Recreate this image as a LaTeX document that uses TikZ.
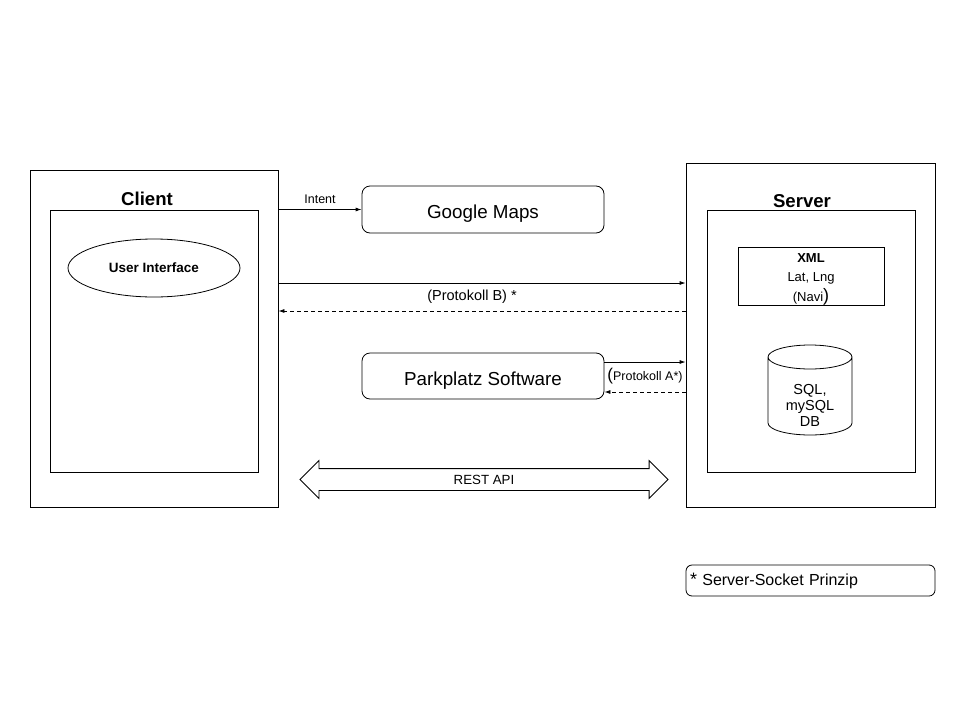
\documentclass[tikz,border=0pt]{standalone}
\usepackage{fontspec}
\setmainfont{Liberation Sans}
\usetikzlibrary{shapes.geometric, shapes.arrows, arrows.meta}

\begin{document}
\begin{tikzpicture}[
		x=1pt, y=-1pt,
		every node/.style={inner sep=0pt},
		box/.style={draw, line width=0.8pt},
		rbox/.style={draw, line width=0.8pt, rounded corners=8pt, text height=18pt, text depth=0pt, font=\fontsize{18.8}{22}\selectfont},
		title/.style={font=\fontsize{18.6}{22}\selectfont\bfseries},
		msg/.style={line width=0.8pt, -{Latex[length=6pt, width=4pt]}},
		reply/.style={msg, dash pattern=on 4pt off 3pt}
	]
  \useasboundingbox (0,0) rectangle (960,720);
  % client side
  \node (client) [box, minimum width=248pt, minimum height=337pt] at (154,338.5) {};
  \node (client_in) [box, minimum width=208pt, minimum height=262pt] at (154,341) {};
  \node (client_label) [title] at (147,199) {Client};
  \node (ui) [box, ellipse, minimum width=172pt, minimum height=58pt, font=\fontsize{13.5}{15}\selectfont\bfseries] at (154,268) {User Interface};
  % server side
  \node (server) [box, minimum width=249pt, minimum height=344pt] at (810.5,335) {};
  \node (server_in) [box, minimum width=208pt, minimum height=262pt] at (811,341) {};
  \node (server_label) [title] at (802,201) {Server};
  \node (xml) [box, minimum width=146pt, minimum height=58pt] at (811,276) {};
  \node (xml_text) [align=center, font=\fontsize{13}{19.5}\selectfont] at (811,279) {\textbf{XML}\\Lat, Lng\\(Navi{\fontsize{18}{18}\selectfont)}};
  \draw [line width=0.8pt] (768,357) -- (768,423) arc (180:0:42 and 12) -- (852,357) arc (0:-180:42 and 12) arc (180:0:42 and 12);
  \node (db) [align=center, font=\fontsize{14.5}{16}\selectfont] at (810,405) {SQL,\\mySQL\\DB};
  % middle
  \node (gmaps) [rbox, minimum width=242pt, minimum height=47pt] at (483,209.5) {Google Maps};
  \node (park) [rbox, minimum width=242pt, minimum height=46pt] at (483,376) {Parkplatz Software};
  \draw [msg] (client.east |- gmaps.west) -- node [above=5pt, font=\fontsize{12.5}{14}\selectfont] {Intent} (gmaps.west);
  \draw [msg] (client.east |- 0,283) -- (server.west |- 0,283);
  \node (proto_b) [font=\fontsize{14.5}{17}\selectfont] at (472,297) {(Protokoll B) *};
  \draw [reply] (server.west |- 0,311) -- (client.east |- 0,311);
  \draw [msg] (park.east |- 0,362) -- (server.west |- 0,362);
  \draw [reply] (server.west |- 0,392) -- (park.east |- 0,392);
  \node (proto_a) [font=\fontsize{12.5}{14}\selectfont] at (645,376) {{\fontsize{17}{17}\selectfont(}Protokoll A*)};
  \node (rest) [draw, line width=0.8pt, double arrow, double arrow head extend=8pt, minimum height=368pt,
    inner xsep=0pt, inner ysep=4.5pt, text height=11pt, text depth=1pt, font=\fontsize{13.3}{15}\selectfont] at (484,479.5) {REST API};
  % footnote
  \node (note) [draw, line width=0.8pt, rounded corners=6pt, minimum height=31pt, text width=241pt, inner xsep=4pt,
    align=left, font=\fontsize{16}{18}\selectfont] at (810.5,580.5) {{\fontsize{18}{18}\selectfont*} Server-Socket Prinzip};
\end{tikzpicture}
\end{document}
